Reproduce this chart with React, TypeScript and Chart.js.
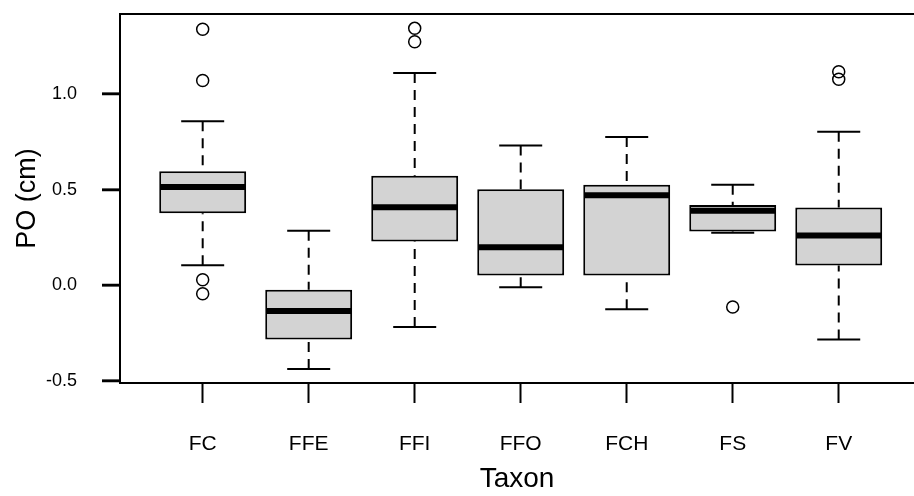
import React, { useEffect, useRef } from 'react';
import { Chart, registerables } from 'chart.js';

Chart.register(...registerables);

// ---- data ----
const categories = ['FC', 'FFE', 'FFI', 'FFO', 'FCH', 'FS', 'FV'];
const whiskerLow = [0.105, -0.438, -0.218, -0.011, -0.126, 0.274, -0.283];
const lowerQuartile = [0.377, -0.283, 0.229, 0.051, 0.051, 0.281, 0.103];
const medians = [0.513, -0.135, 0.408, 0.199, 0.471, 0.389, 0.26];
const upperQuartile = [0.596, -0.023, 0.573, 0.502, 0.525, 0.419, 0.406];
const whiskerHigh = [0.857, 0.285, 1.11, 0.73, 0.775, 0.525, 0.803];
const outlierTaxa = ['FC', 'FC', 'FC', 'FC', 'FFI', 'FFI', 'FS', 'FV', 'FV'];
const outlierValues = [1.338, 1.07, 0.029, -0.044, 1.343, 1.273, -0.114, 1.116, 1.077];
const yTicks = [-0.5, 0, 0.5, 1.0];
const xTitle = 'Taxon';
const yTitle = 'PO (cm)';

const FONT = "'Liberation Sans', Arial, sans-serif";
const Y_TICK_LEN = 18;

// frame top line + y-axis tick marks (positions from the chart's own y scale)
const framePlugin = {
  id: 'frame',
  afterDraw(chart: any) {
    const { ctx, chartArea } = chart;
    const yScale = chart.scales.y;
    ctx.save();
    ctx.strokeStyle = '#000';
    ctx.lineWidth = 2;
    ctx.beginPath();
    ctx.moveTo(chartArea.left - 1, chartArea.top);
    ctx.lineTo(chartArea.right + 1, chartArea.top);
    ctx.stroke();
    ctx.lineWidth = 2.5;
    ctx.beginPath();
    yTicks.forEach((v) => {
      const py = Math.round(yScale.getPixelForValue(v));
      ctx.moveTo(chartArea.left - Y_TICK_LEN, py);
      ctx.lineTo(chartArea.left, py);
    });
    ctx.stroke();
    ctx.restore();
  },
};

export default function App() {
  const canvasRef = useRef<HTMLCanvasElement | null>(null);

  useEffect(() => {
    const canvas = canvasRef.current;
    if (!canvas) return;

    const pos = (t: string) => categories.indexOf(t) + 1;

    const boxes = categories.map((_, i) => ({ x: i + 1, y: [lowerQuartile[i], upperQuartile[i]] }));
    const medianPts = categories.map((_, i) => ({ x: i + 1, y: medians[i] }));
    const whiskerPts: any[] = [];
    categories.forEach((_, i) => {
      whiskerPts.push({ x: i + 1, y: whiskerHigh[i] });
      whiskerPts.push({ x: i + 1, y: upperQuartile[i] });
      whiskerPts.push({ x: i + 1, y: null });
      whiskerPts.push({ x: i + 1, y: whiskerLow[i] });
      whiskerPts.push({ x: i + 1, y: lowerQuartile[i] });
      whiskerPts.push({ x: i + 1, y: null });
    });
    const capPts = [
      ...categories.map((_, i) => ({ x: i + 1, y: whiskerHigh[i] })),
      ...categories.map((_, i) => ({ x: i + 1, y: whiskerLow[i] })),
    ];
    const outlierPts = outlierTaxa.map((t, i) => ({ x: pos(t), y: outlierValues[i] }));

    const chart = new Chart(canvas, {
      type: 'bar',
      data: {
        datasets: [
          { type: 'bar', data: boxes as any, backgroundColor: '#D3D3D3', borderColor: '#000', borderWidth: 2, borderSkipped: false, categoryPercentage: 1, barPercentage: 0.82, order: 5 } as any,
          { type: 'line', data: whiskerPts, borderColor: '#000', borderWidth: 2, borderDash: [10, 7], pointRadius: 0, spanGaps: false, fill: false, tension: 0, order: 6 } as any,
          { type: 'scatter', data: capPts, pointStyle: 'line', pointRadius: 21.5, pointBorderWidth: 2, pointBorderColor: '#000', borderColor: '#000', order: 3 } as any,
          { type: 'scatter', data: medianPts, pointStyle: 'line', pointRadius: 42.5, pointBorderWidth: 6, pointBorderColor: '#000', borderColor: '#000', order: 1 } as any,
          { type: 'scatter', data: outlierPts, pointStyle: 'circle', pointRadius: 6, pointBorderWidth: 1.5, pointBorderColor: '#000', pointBackgroundColor: 'rgba(0,0,0,0)', order: 0 } as any,
        ],
      },
      options: {
        responsive: false,
        animation: false,
        events: [],
        layout: { padding: { top: 14, left: 0, right: 0, bottom: 0 }, autoPadding: false } as any,
        plugins: { legend: { display: false }, tooltip: { enabled: false } },
        scales: {
          x: {
            type: 'linear', min: 0.22, max: 7.71, offset: false,
            afterFit: (s: any) => { s.height = 113; s.paddingLeft = 0; s.paddingRight = 0; },
            afterBuildTicks: (s: any) => { s.ticks = categories.map((_, i) => ({ value: i + 1 })); },
            grid: { display: true, offset: false, drawOnChartArea: false, drawTicks: true, tickLength: 20, tickColor: '#000', tickWidth: 2 },
            border: { display: true, color: '#000', width: 2 },
            ticks: { autoSkip: false, maxRotation: 0, padding: 29, color: '#000', font: { family: FONT, size: 21 }, callback: (v: any) => categories[Number(v) - 1] ?? '' },
            title: { display: true, text: xTitle, color: '#000', font: { family: FONT, size: 28 }, padding: { top: 0, bottom: 0 } },
          },
          y: {
            type: 'linear', min: -0.511, max: 1.418,
            afterFit: (s: any) => { s.width = 120; s.paddingTop = 0; s.paddingBottom = 0; },
            afterBuildTicks: (s: any) => { s.ticks = yTicks.map((v) => ({ value: v })); },
            grid: { display: true, offset: false, drawOnChartArea: false, drawTicks: true, tickLength: Y_TICK_LEN, tickColor: '#000', tickWidth: 2 },
            border: { display: true, color: '#000', width: 2 },
            ticks: { padding: 25, color: '#000', font: { family: FONT, size: 18 }, callback: (v: any) => Number(v).toFixed(1) },
            title: { display: true, text: yTitle, color: '#000', font: { family: FONT, size: 27 }, padding: { top: 11, bottom: 0 } },
          },
        },
      } as any,
      plugins: [framePlugin],
    });

    return () => chart.destroy();
  }, []);

  return (
    <div style={{ position: 'absolute', left: 0, top: 0, width: 914, height: 496, overflow: 'hidden', background: '#fff' }}>
      <canvas ref={canvasRef} width={914} height={496} style={{ display: 'block' }} />
    </div>
  );
}
